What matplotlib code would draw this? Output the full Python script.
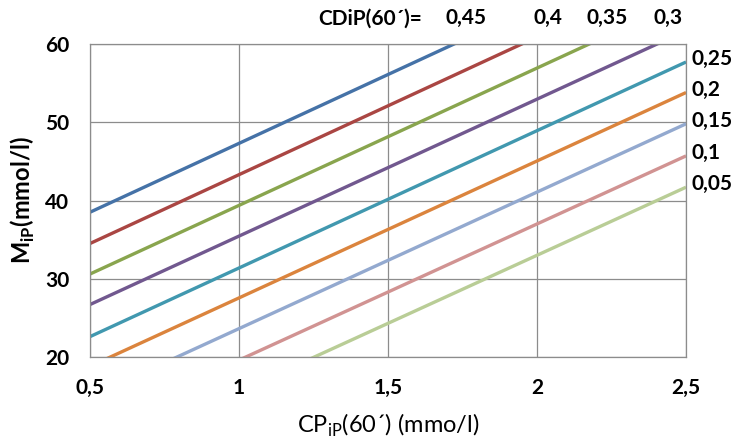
import matplotlib
matplotlib.use("Agg")
from matplotlib import pyplot as plt

plt.rcParams['font.family'] = ['Lato', 'DejaVu Sans']
plt.rcParams['mathtext.fontset'] = 'custom'
plt.rcParams['mathtext.rm'] = 'Lato'

# CDiP(60') values, one line each
cdip = ['0,45', '0,4', '0,35', '0,3', '0,25', '0,2', '0,15', '0,1', '0,05']
cp_ends = [0.5, 2.5]
m_start = [38.5, 34.5, 30.6, 26.7, 22.6, 18.8, 14.9, 10.9, 6.9]
m_end = [73.7, 69.7, 65.7, 61.7, 57.7, 53.8, 49.8, 45.7, 41.7]
colors = ['#4572A7', '#AA4643', '#89A54E', '#71588F', '#4198AF',
          '#DB843D', '#93A9CF', '#D19392', '#B9CD96']

# labels above the plot for lines that leave through the top
top_label_x = [1.762, 2.037, 2.235, 2.44]

xticks = [0.5, 1, 1.5, 2, 2.5]
xticklabels = ['0,5', '1', '1,5', '2', '2,5']
yticks = [20, 30, 40, 50, 60]

fs = 15

fig = plt.figure(figsize=(7.46, 4.41), dpi=100)
ax = fig.add_axes([0.1206, 0.1905, 0.799, 0.7097])

for s, e, c in zip(m_start, m_end, colors):
    ax.plot(cp_ends, [s, e], color=c, lw=2.4, solid_capstyle='butt')

ax.set_xlim(0.5, 2.5)
ax.set_ylim(20, 60)
ax.set_xticks(xticks)
ax.set_xticklabels(xticklabels)
ax.set_yticks(yticks)
ax.grid(True, color='#8c8c8c', lw=0.9)
ax.set_axisbelow(True)
for sp in ax.spines.values():
    sp.set_color('#8c8c8c')
    sp.set_linewidth(0.9)
ax.tick_params(length=0, labelsize=fs)
ax.tick_params(axis='x', pad=15)
ax.tick_params(axis='y', pad=15)
for lab in ax.get_xticklabels() + ax.get_yticklabels():
    lab.set_fontweight('bold')

ax.set_xlabel(r'CP$_{\mathregular{iP}}$(60´) (mmo/l)', fontsize=17, labelpad=10)
ax.set_ylabel(r'M$_{\mathregular{iP}}$(mmol/l)', fontsize=17, fontweight='bold', labelpad=6)

# top labels
ax.text(1.615, 63.3, 'CDiP(60´)=', fontsize=fs, fontweight='bold', ha='right', va='center')
for x, lab in zip(top_label_x, cdip[:4]):
    ax.text(x, 63.3, lab, fontsize=fs, fontweight='bold', ha='center', va='center')

# right labels
for e, lab in zip(m_end[4:], cdip[4:]):
    ax.annotate(lab, xy=(2.5, e), xytext=(4, 2), textcoords='offset points',
                fontsize=fs, fontweight='bold', ha='left', va='center',
                annotation_clip=False)

fig.savefig('out.png', dpi=100)
